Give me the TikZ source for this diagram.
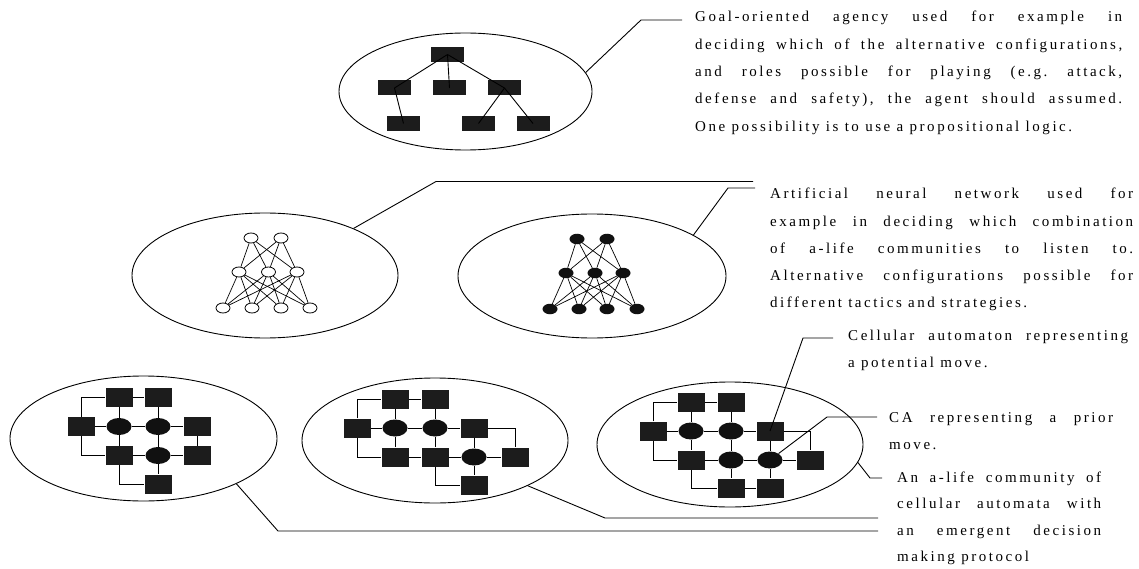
\documentclass[tikz,border=0pt]{standalone}
\usepackage{fontspec}
\setmainfont{Liberation Serif}
\newfontfamily\spacedfont{Liberation Serif}[LetterSpace=17]
\usetikzlibrary{shapes.geometric}
\definecolor{boxfill}{HTML}{1C1C1C}
\definecolor{cellfill}{HTML}{111111}
\newcommand{\jline}[2]{\makebox[#1][s]{#2}}
\frenchspacing
\tikzset{
  bubble/.style={draw, ellipse, line width=0.9pt, inner sep=0pt},
  tbox/.style={rectangle, fill=boxfill, minimum width=33pt, minimum height=15pt, inner sep=0pt},
  cbox/.style={rectangle, fill=boxfill, minimum width=27pt, minimum height=19pt, inner sep=0pt},
  cell/.style={ellipse, fill=cellfill, minimum width=25pt, minimum height=17pt, inner sep=0pt},
  nopen/.style={ellipse, draw, fill=white, line width=0.8pt, minimum width=14pt, minimum height=10pt, inner sep=0pt},
  nfill/.style={ellipse, fill=cellfill, minimum width=15pt, minimum height=10.5pt, inner sep=0pt},
  link/.style={line width=0.9pt},
  leader/.style={line width=0.9pt},
  txt/.style={anchor=base west, inner sep=0pt, font=\spacedfont\fontsize{15pt}{17pt}\selectfont\frenchspacing}
}
\begin{document}
\begin{tikzpicture}[x=1pt,y=-1pt]
\useasboundingbox (0,0) rectangle (1139,569);

% ---------- bubbles ----------
\node[bubble, minimum width=253pt, minimum height=117pt] (etop) at (465.5,91.5) {};
\node[bubble, minimum width=266pt, minimum height=125pt] (emidL) at (265,275.5) {};
\node[bubble, minimum width=268pt, minimum height=124pt] (emidR) at (592,276) {};
\node[bubble, minimum width=267pt, minimum height=125pt] (ebotL) at (143.5,438.5) {};
\node[bubble, minimum width=266pt, minimum height=125pt] (ebotM) at (435,440.5) {};
\node[bubble, minimum width=266pt, minimum height=125pt] (ebotR) at (730,444.5) {};

% ---------- goal tree ----------
\node[tbox] (t0) at (447.5,54.5) {};
\node[tbox] (t1) at (394.5,88) {};
\node[tbox] (t2) at (449.5,88) {};
\node[tbox] (t3) at (504.5,88) {};
\node[tbox] (t4) at (403.5,123.5) {};
\node[tbox] (t5) at (478.5,123.5) {};
\node[tbox] (t6) at (533,123.5) {};
\draw[link] (t0.center) -- (t1.center);
\draw[link] (t0.center) -- (t2.center);
\draw[link] (t0.center) -- (t3.center);
\draw[link] (t1.center) -- (t4.center);
\draw[link] (t3.center) -- (t5.center);
\draw[link] (t3.center) -- (t6.center);

% ---------- neural net (open) ----------
\foreach \i/\x in {1/251, 2/281} \node[nopen] (na\i) at (\x,238) {};
\foreach \i/\x in {1/239, 2/268.5, 3/297} \node[nopen] (nb\i) at (\x,272) {};
\foreach \i/\x in {1/223, 2/252, 3/281, 4/310} \node[nopen] (nc\i) at (\x,308) {};
\foreach \a in {1,2} \foreach \b in {1,2,3} \draw[link, line width=0.7pt] (na\a) -- (nb\b);
\foreach \a in {1,2,3} \foreach \b in {1,2,3,4} \draw[link, line width=0.7pt] (nb\a) -- (nc\b);

% ---------- neural net (filled) ----------
\foreach \i/\x in {1/577, 2/607} \node[nfill] (ma\i) at (\x,239) {};
\foreach \i/\x in {1/566, 2/595, 3/623} \node[nfill] (mb\i) at (\x,273) {};
\foreach \i/\x in {1/550, 2/579, 3/607, 4/637} \node[nfill] (mc\i) at (\x,309) {};
\foreach \a in {1,2} \foreach \b in {1,2,3} \draw[link, line width=0.7pt] (ma\a) -- (mb\b);
\foreach \a in {1,2,3} \foreach \b in {1,2,3,4} \draw[link, line width=0.7pt] (mb\a) -- (mc\b);

% ---------- CA community, bottom left ----------
\node[cbox] (aB1) at (119,397) {};
\node[cbox] (aB2) at (158,397) {};
\node[cbox] (aB3) at (81,426.5) {};
\node[cell] (aE1) at (119,426.5) {};
\node[cell] (aE2) at (158,426.5) {};
\node[cbox] (aB4) at (197,426.5) {};
\node[cbox] (aB5) at (119,455.5) {};
\node[cell] (aE3) at (158,455.5) {};
\node[cbox] (aB6) at (197,455.5) {};
\node[cbox] (aB7) at (158,484) {};
\draw[link] (aB3) |- (aB1);
\draw[link] (aB3) |- (aB5);
\draw[link] (aB1) -- (aB2);
\draw[link] (aB3) -- (aE1) -- (aE2) -- (aB4);
\draw[link] (aB1) -- (aE1) -- (aB5);
\draw[link] (aB2) -- (aE2) -- (aE3) -- (aB7);
\draw[link] (aB5) -- (aE3) -- (aB6);
\draw[link] (aB5) |- (aB7);
\draw[link] (aB4) -- (aB6);

% ---------- CA community, bottom middle ----------
\node[cbox] (bB1) at (395,399) {};
\node[cbox] (bB2) at (435,399) {};
\node[cbox] (bB3) at (357,428) {};
\node[cell] (bE1) at (395,428) {};
\node[cell] (bE2) at (435,428) {};
\node[cbox] (bB4) at (474,428) {};
\node[cbox] (bB5) at (395,457) {};
\node[cbox] (bB6) at (435,457) {};
\node[cell] (bE3) at (474,457) {};
\node[cbox] (bB7) at (515,457) {};
\node[cbox] (bB8) at (474,485) {};
\draw[link] (bB3) |- (bB1);
\draw[link] (bB3) |- (bB5);
\draw[link] (bB1) -- (bB2);
\draw[link] (bB3) -- (bE1) -- (bE2) -- (bB4);
\draw[link] (bB4) -| (bB7);
\draw[link] (bB1) -- (bE1) -- (bB5);
\draw[link] (bB2) -- (bE2) -- (bB6);
\draw[link] (bB5) -- (bB6) -- (bE3) -- (bB7);
\draw[link] (bB4) -- (bE3) -- (bB8);
\draw[link] (bB6) |- (bB8);

% ---------- CA community, bottom right ----------
\node[cbox] (cB1) at (691,402) {};
\node[cbox] (cB2) at (731,402) {};
\node[cbox] (cB3) at (653,431) {};
\node[cell] (cE1) at (691,431) {};
\node[cell] (cE2) at (731,431) {};
\node[cbox] (cB4) at (770,431) {};
\node[cbox] (cB5) at (691,460) {};
\node[cell] (cE3) at (731,460) {};
\node[cell] (cE4) at (770,460) {};
\node[cbox] (cB6) at (810,460) {};
\node[cbox] (cB7) at (731,488) {};
\node[cbox] (cB8) at (770,488) {};
\draw[link] (cB3) |- (cB1);
\draw[link] (cB3) |- (cB5);
\draw[link] (cB1) -- (cB2);
\draw[link] (cB3) -- (cE1) -- (cE2) -- (cB4);
\draw[link] (cB4) -| (cB6);
\draw[link] (cB1) -- (cE1) -- (cB5);
\draw[link] (cB2) -- (cE2) -- (cE3) -- (cB7);
\draw[link] (cB5) -- (cE3) -- (cE4) -- (cB6);
\draw[link] (cB4) -- (cE4) -- (cB8);
\draw[link] (cB5) |- (cB7);
\draw[link] (cB7) -- (cB8);

% ---------- leader lines ----------
\coordinate (l1a) at (641,20);   \coordinate (l1b) at (682,20);
\coordinate (l2a) at (436,181.5); \coordinate (l2b) at (753,181.5);
\coordinate (l3a) at (728,188);  \coordinate (l3b) at (755,188);
\coordinate (l4a) at (278,531);  \coordinate (l4b) at (878,531);
\coordinate (l5a) at (605,518);  \coordinate (l5b) at (878,518);
\coordinate (l6a) at (803,338);  \coordinate (l6b) at (833,338);
\coordinate (l7a) at (827,417);  \coordinate (l7b) at (877,417);
\coordinate (l8a) at (870,478);  \coordinate (l8b) at (882,478);
\draw[leader] (etop.9) -- (l1a) -- (l1b);
\draw[leader] (emidL.28) -- (l2a) -- (l2b);
\draw[leader] (emidR.22) -- (l3a) -- (l3b);
\draw[leader] (ebotL.-26) -- (l4a) -- (l4b);
\draw[leader] (ebotM.-26) -- (l5a) -- (l5b);
\draw[leader] (cB4.center) -- (l6a) -- (l6b);
\draw[leader] (cE4) -- (l7a) -- (l7b);
\draw[leader] (ebotR.-8) -- (l8a) -- (l8b);

% ---------- texts ----------
\node[txt] (g1) at (695,22) {\jline{427pt}{Goal-oriented agency used for example in}};
\node[txt] (g2) at (695,49.3) {\jline{427pt}{deciding which of the alternative configurations,}};
\node[txt] (g3) at (695,76.6) {\jline{427pt}{and roles possible for playing (e.g. attack,}};
\node[txt] (g4) at (695,103.9) {\jline{427pt}{defense and safety), the agent should assumed.}};
\node[txt] (g5) at (695,131.2) {One possibility is to use a propositional logic.};

\node[txt] (a1) at (770,199) {\jline{363pt}{Artificial neural network used for}};
\node[txt] (a2) at (770,226) {\jline{363pt}{example in deciding which combination}};
\node[txt] (a3) at (770,253) {\jline{363pt}{of a-life communities to listen to.}};
\node[txt] (a4) at (770,280) {\jline{363pt}{Alternative configurations possible for}};
\node[txt] (a5) at (770,307) {different tactics and strategies.};

\node[txt] (c1) at (848,340.5) {\jline{280pt}{Cellular automaton representing}};
\node[txt] (c2) at (848,367.5) {a potential move.};

\node[txt] (p1) at (889,422) {\jline{224pt}{CA representing a prior}};
\node[txt] (p2) at (889,449) {move.};

\node[txt] (s1) at (897,482) {\jline{204pt}{An a-life community of}};
\node[txt] (s2) at (897,508.5) {\jline{204pt}{cellular automata with}};
\node[txt] (s3) at (897,535) {\jline{204pt}{an emergent decision}};
\node[txt] (s4) at (897,561.5) {making protocol};
\end{tikzpicture}
\end{document}
